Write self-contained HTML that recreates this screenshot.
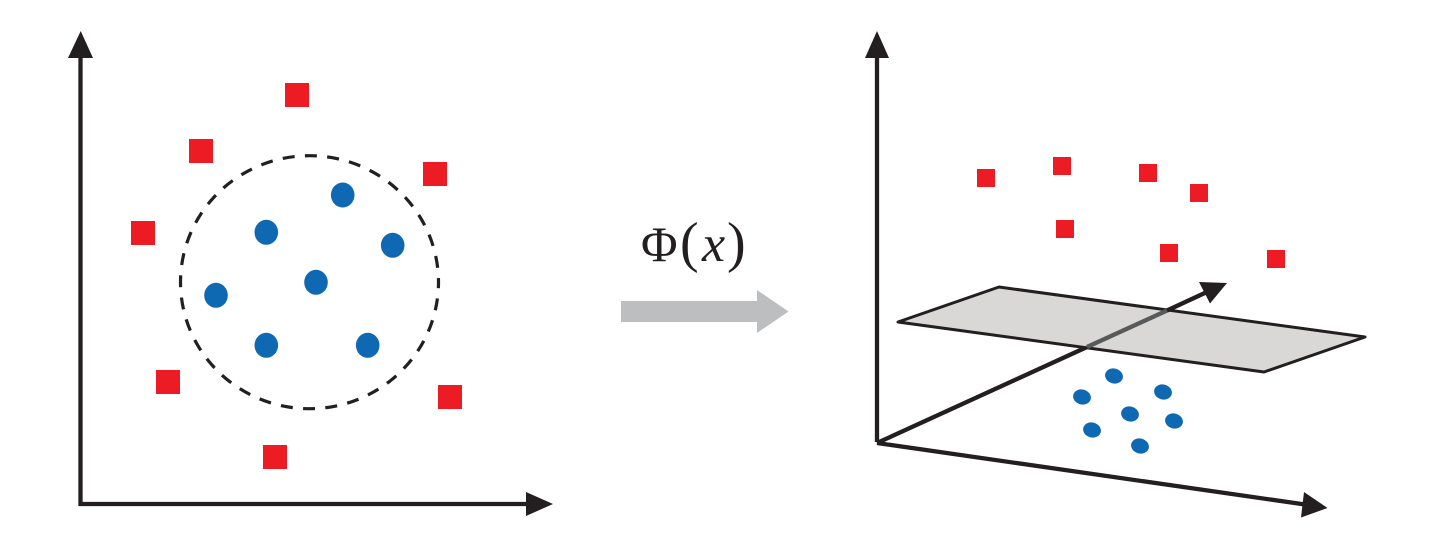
<!DOCTYPE html>
<html>
<head>
<meta charset="utf-8">
<style>
html,body{margin:0;padding:0;background:#fff;width:1435px;height:554px;overflow:hidden}
svg{display:block}
</style>
</head>
<body>
<svg width="1435" height="554" viewBox="0 0 1435 554" xmlns="http://www.w3.org/2000/svg">
<rect width="1435" height="554" fill="#fff"/>
<!-- left axes -->
<path d="M80.5 52V504H530" fill="none" stroke="#231f20" stroke-width="4.3"/>
<polygon points="80.7,31 68,58 93,58" fill="#231f20"/>
<polygon points="553,504 526,492 526,516" fill="#231f20"/>
<!-- dashed circle -->
<ellipse cx="309.5" cy="282.2" rx="129" ry="126.5" fill="none" stroke="#231f20" stroke-width="3.2" stroke-dasharray="12 10.34" stroke-dashoffset="6"/>
<!-- red squares left -->
<g fill="#ed1c24">
<rect x="285" y="83" width="24" height="24"/>
<rect x="189" y="139" width="24" height="24"/>
<rect x="423" y="162" width="24" height="24"/>
<rect x="131" y="221" width="24" height="24"/>
<rect x="156" y="370" width="24" height="24"/>
<rect x="438" y="385" width="24" height="24"/>
<rect x="263" y="445" width="24" height="24"/>
</g>
<!-- blue circles left -->
<g fill="#0f68b2">
<ellipse cx="342.7" cy="195" rx="11.8" ry="12.5"/>
<ellipse cx="266.3" cy="232.3" rx="11.8" ry="12.5"/>
<ellipse cx="392.7" cy="245.3" rx="11.8" ry="12.5"/>
<ellipse cx="316" cy="282.3" rx="11.8" ry="12.5"/>
<ellipse cx="216" cy="295.3" rx="11.8" ry="12.5"/>
<ellipse cx="266.3" cy="345.3" rx="11.8" ry="12.5"/>
<ellipse cx="367.7" cy="345.3" rx="11.8" ry="12.5"/>
</g>
<!-- phi label -->
<g font-family="'Liberation Serif','DejaVu Serif',serif" fill="#231f20">
<text x="641" y="261" font-size="50">Φ</text>
<text x="680" y="261" font-size="56">(</text>
<text x="702" y="261" font-size="52" font-style="italic">x</text>
<text x="727" y="261" font-size="56">)</text>
</g>
<!-- grey arrow -->
<polygon points="621,301 757,301 757,290 788.5,311.5 757,333 757,322 621,322" fill="#bcbec0"/>
<!-- right axes -->
<path d="M877 442V52" fill="none" stroke="#231f20" stroke-width="4.3"/>
<polygon points="877,31 865,58 889,58" fill="#231f20"/>
<path d="M877 443L1305 504.5" fill="none" stroke="#231f20" stroke-width="4.3"/>
<polygon points="1327.5,508 1304,492 1301,517.5" fill="#231f20"/>
<!-- back axis lower -->
<path d="M877 443L1087 347" fill="none" stroke="#231f20" stroke-width="4.3"/>
<!-- plane -->
<polygon points="999,287 1365,337 1264,372 898,322" fill="#d9d8d6" stroke="#231f20" stroke-width="3" stroke-linejoin="round"/>
<!-- axis through plane -->
<path d="M1087 347L1167 310.5" fill="none" stroke="#58595b" stroke-width="4.3"/>
<path d="M1167 310.5L1208 291.5" fill="none" stroke="#231f20" stroke-width="4.3"/>
<polygon points="1227,283 1199,282 1210,303.5" fill="#231f20"/>
<!-- red squares right -->
<g fill="#ed1c24">
<rect x="977" y="169" width="18" height="18"/>
<rect x="1053" y="157" width="18" height="18"/>
<rect x="1139" y="164" width="18" height="18"/>
<rect x="1190" y="184" width="18" height="18"/>
<rect x="1056" y="220" width="18" height="18"/>
<rect x="1160" y="244" width="18" height="18"/>
<rect x="1267" y="250" width="18" height="18"/>
</g>
<!-- blue right -->
<g fill="#0f68b2">
<ellipse cx="1114" cy="376" rx="9" ry="7.5" transform="rotate(15 1114 376)"/>
<ellipse cx="1163" cy="392" rx="9" ry="7.5" transform="rotate(15 1163 392)"/>
<ellipse cx="1082" cy="397" rx="9" ry="7.5" transform="rotate(15 1082 397)"/>
<ellipse cx="1130" cy="414" rx="9" ry="7.5" transform="rotate(15 1130 414)"/>
<ellipse cx="1174" cy="421" rx="9" ry="7.5" transform="rotate(15 1174 421)"/>
<ellipse cx="1092" cy="430" rx="9" ry="7.5" transform="rotate(15 1092 430)"/>
<ellipse cx="1140" cy="446" rx="9" ry="7.5" transform="rotate(15 1140 446)"/>
</g>
</svg>
</body>
</html>
